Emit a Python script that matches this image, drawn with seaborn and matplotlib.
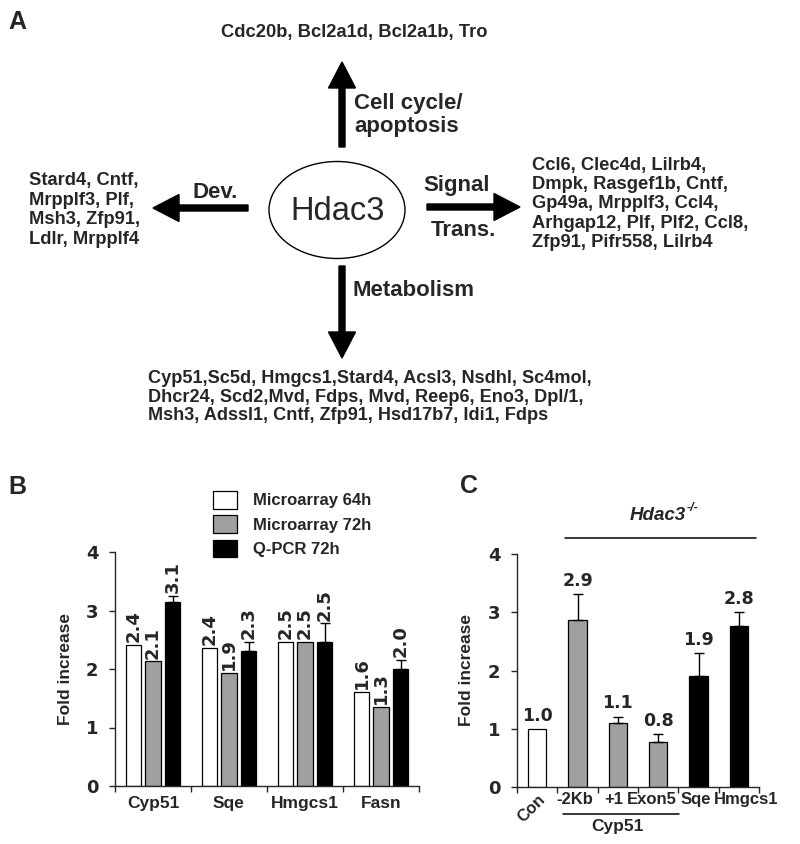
# %%
import numpy as np
import pandas as pd
import matplotlib
matplotlib.use("Agg")
import matplotlib.pyplot as plt
import matplotlib.transforms as mtransforms
from matplotlib.patches import Ellipse, FancyArrow
from matplotlib.ticker import FixedLocator
import seaborn as sns

sns.set_style("ticks")
plt.rcParams["font.family"] = ["Liberation Sans", "DejaVu Sans"]

# %% data
# panel A gene lists
cell_cycle_genes = "Cdc20b, Bcl2a1d, Bcl2a1b, Tro"
dev_genes = ["Stard4, Cntf,", "Mrpplf3, Plf,", "Msh3, Zfp91,", "Ldlr, Mrpplf4"]
signal_genes = ["Ccl6, Clec4d, Lilrb4,", "Dmpk, Rasgef1b, Cntf,",
                "Gp49a, Mrpplf3, Ccl4,", "Arhgap12, Plf, Plf2, Ccl8,",
                "Zfp91, Pifr558, Lilrb4"]
metab_genes = ["Cyp51,Sc5d, Hmgcs1,Stard4, Acsl3, Nsdhl, Sc4mol,",
               "Dhcr24, Scd2,Mvd, Fdps, Mvd, Reep6, Eno3, Dpl/1,",
               "Msh3, Adssl1, Cntf, Zfp91, Hsd17b7, Idi1, Fdps"]

# panel B
genes_b = ["Cyp51", "Sqe", "Hmgcs1", "Fasn"]
series_b = ["Microarray 64h", "Microarray 72h", "Q-PCR 72h"]
micro64 = [2.41, 2.36, 2.47, 1.61]
micro72 = [2.13, 1.93, 2.46, 1.35]
qpcr72 = [3.14, 2.30, 2.46, 2.00]
qpcr72_err = [0.11, 0.16, 0.32, 0.15]
labels_b = [["2.4", "2.4", "2.5", "1.6"],
            ["2.1", "1.9", "2.5", "1.3"],
            ["3.1", "2.3", "2.5", "2.0"]]

# panel C
samples_c = ["Con", "-2Kb", "+1", "Exon5", "Sqe", "Hmgcs1"]
fold_c = [1.00, 2.86, 1.10, 0.78, 1.91, 2.76]
err_c = [0.0, 0.45, 0.11, 0.13, 0.39, 0.25]
labels_c = ["1.0", "2.9", "1.1", "0.8", "1.9", "2.8"]

white, gray, black = "white", "#a0a0a0", "black"
colors_b = [white, gray, black]
colors_c = [white, gray, gray, gray, black, black]

numfont = ["DejaVu Sans"]

# %% figure
fig = plt.figure(figsize=(8, 8.44), dpi=100)

# ---- panel A: diagram drawn in pixel coordinates
axA = fig.add_axes([0, 0, 1, 1])
axA.set_xlim(0, 800)
axA.set_ylim(844, 0)
axA.axis("off")

arrow_kw = dict(width=6, head_width=27, head_length=26,
                length_includes_head=True, color="black")
axA.add_patch(FancyArrow(342, 147, 0, -85, **arrow_kw))
axA.add_patch(FancyArrow(248, 208, -95, 0, **arrow_kw))
axA.add_patch(FancyArrow(427, 207, 93, 0, **arrow_kw))
axA.add_patch(FancyArrow(342, 266, 0, 92, **arrow_kw))
axA.add_patch(Ellipse((337, 210), 136, 97, fill=False, lw=1.0, ec="black"))
axA.text(338, 211, "Hdac3", fontsize=23.5, ha="center", va="center")

gk = dict(fontsize=13.2, fontweight="bold")
lk = dict(fontsize=16, fontweight="bold")
axA.text(8, 22, "A", fontsize=18, fontweight="bold", va="center")
axA.text(354, 33, cell_cycle_genes, ha="center", va="center", **gk)
axA.text(354, 115, "Cell cycle/\napoptosis", ha="left", va="center",
         linespacing=1.15, **lk)
axA.text(215, 193, "Dev.", ha="center", va="center", **lk)
axA.text(29, 210, "\n".join(dev_genes), ha="left", va="center",
         linespacing=1.18, **gk)
axA.text(457, 185, "Signal", ha="center", va="center", **lk)
axA.text(463, 230, "Trans.", ha="center", va="center", **lk)
axA.text(532, 204, "\n".join(signal_genes), ha="left", va="center",
         linespacing=1.18, **gk)
axA.text(352, 290, "Metabolism", ha="left", va="center", **lk)
axA.text(148, 397, "\n".join(metab_genes), ha="left", va="center",
         linespacing=1.1, fontsize=13.1, fontweight="bold")
axA.text(8, 487, "B", fontsize=18, fontweight="bold", va="center")
axA.text(460, 486, "C", fontsize=18, fontweight="bold", va="center")

# ---- panel B
axB = fig.add_axes([115 / 800, 58 / 844, 304 / 800, 234 / 844])
dfb = pd.DataFrame({
    "gene": genes_b * 3,
    "series": np.repeat(series_b, len(genes_b)),
    "value": micro64 + micro72 + qpcr72,
})
sns.barplot(data=dfb, x="gene", y="value", hue="series", palette=colors_b,
            edgecolor="black", linewidth=0.9, width=0.77, gap=0.2,
            errorbar=None, ax=axB)

bar_sets_b = list(axB.containers)[:3]
for k, cont in enumerate(bar_sets_b):
    for j, bar in enumerate(cont.patches):
        xc = bar.get_x() + bar.get_width() / 2
        h = bar.get_height()
        top = h
        if k == 2:
            axB.errorbar(xc, h, yerr=[[0], [qpcr72_err[j]]], fmt="none",
                         ecolor="black", elinewidth=1, capsize=3.5, capthick=1)
            top = h + qpcr72_err[j]
        axB.annotate(labels_b[k][j], (xc, top), xytext=(0, 2),
                     textcoords="offset points", rotation=90, ha="center",
                     va="bottom", fontsize=13, fontweight="bold",
                     family=numfont)

sns.move_legend(axB, loc="upper left", bbox_to_anchor=(213 / 800, 1 - 491 / 844),
                bbox_transform=fig.transFigure, title=None, frameon=False,
                borderpad=0, borderaxespad=0, handlelength=1.45,
                handleheight=1.25, handletextpad=0.95, labelspacing=0.4,
                prop={"weight": "bold", "size": 12})

# ---- panel C
axC = fig.add_axes([517 / 800, 57 / 844, 242 / 800, 233 / 844])
sns.barplot(x=samples_c, y=fold_c, hue=samples_c, palette=colors_c,
            edgecolor="black", linewidth=0.9, width=0.45, legend=False,
            errorbar=None, ax=axC)
bars_c = [b for cont in list(axC.containers) for b in cont.patches]
for j, bar in enumerate(bars_c):
    xc = bar.get_x() + bar.get_width() / 2
    h = bar.get_height()
    if err_c[j] > 0:
        axC.errorbar(xc, h, yerr=[[0], [err_c[j]]], fmt="none",
                     ecolor="black", elinewidth=1, capsize=3.5, capthick=1)
    axC.annotate(labels_c[j], (xc, h + err_c[j]), xytext=(0, 3),
                 textcoords="offset points", ha="center", va="bottom",
                 fontsize=12.5, fontweight="bold", family=numfont)

# header and group bracket for panel C
tC = mtransforms.blended_transform_factory(axC.transData, axC.transAxes)
axC.plot([0.69, 5.43], [1.069, 1.069], color="black", lw=1.1,
         transform=tC, clip_on=False)
hd = axC.text(3.0, 1.165, "Hdac3", transform=tC, ha="center",
              va="center", fontsize=13.5, fontweight="bold", fontstyle="italic")
axC.annotate("-/-", xy=(1.0, 0.62), xycoords=hd, ha="left", va="bottom",
             fontsize=9, fontweight="bold", fontstyle="italic")
axC.plot([0.65, 3.52], [-0.116, -0.116], color="black", lw=1.1,
         transform=tC, clip_on=False)
axC.text(2.0, -0.17, "Cyp51", transform=tC, ha="center", va="center",
         fontsize=12.5, fontweight="bold")

# ---- shared axis styling
for ax, n, xpad, lpad in [(axB, len(genes_b), 7, 9), (axC, len(samples_c), 3.5, 10)]:
    ax.set_xlim(-0.5, n - 0.5)
    ax.set_ylim(0, 4)
    ax.set_yticks([0, 1, 2, 3, 4])
    ax.xaxis.set_minor_locator(FixedLocator(np.arange(n + 1) - 0.5))
    ax.tick_params(axis="x", which="major", length=0, pad=xpad)
    ax.tick_params(axis="x", which="minor", length=4, width=1, direction="out")
    ax.tick_params(axis="y", length=4, width=1, pad=8, direction="out")
    for lab in ax.get_xticklabels():
        lab.set_fontweight("bold")
        lab.set_fontsize(12.5)
    for lab in ax.get_yticklabels():
        lab.set_fontweight("bold")
        lab.set_fontsize(13)
        lab.set_family(numfont)
    sns.despine(ax=ax)
    ax.spines["left"].set_linewidth(1)
    ax.spines["bottom"].set_linewidth(1)
    ax.set_xlabel("")
    ax.set_ylabel("Fold increase", fontsize=12.5, fontweight="bold",
                  labelpad=lpad)

# panel C tick labels: crowded, so nudge them as in the original
xlabs_c = axC.get_xticklabels()
for lab in xlabs_c:
    lab.set_fontsize(12)
con = xlabs_c[0]
con.set_rotation(45)
con.set_ha("right")
con.set_va("top")
con.set_rotation_mode("anchor")
for lab, dx in zip(xlabs_c, [0, -3, -4, -6, -3, 7]):
    lab.set_transform(lab.get_transform()
                      + mtransforms.ScaledTranslation(dx / 100, 0, fig.dpi_scale_trans))

fig.savefig("out.png", dpi=100)
